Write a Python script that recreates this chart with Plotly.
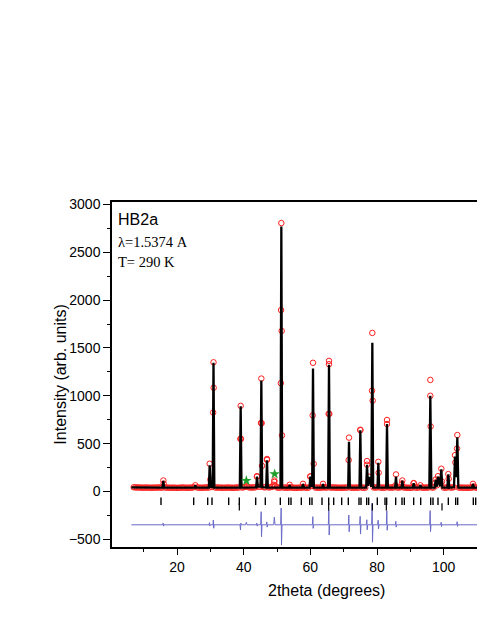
import plotly.graph_objects as go

# calculated profile (2theta, counts), vertices
calc_x = [6.3, 15.65, 15.9, 16.15, 25.25, 25.5, 25.75,
          29.55, 29.8, 30.1, 30.7, 30.95, 31.2, 38.85, 39.1, 39.35,
          43.75, 44.0, 44.25, 45.05, 45.3, 45.55, 46.75, 47.0, 47.25,
          51.05, 51.3, 51.55, 53.55, 53.8, 54.05, 57.55, 57.8, 58.05,
          59.75, 60.0, 60.3, 60.55, 60.8, 61.05, 63.55, 63.8, 64.05,
          65.35, 65.6, 65.85, 71.35, 71.6, 71.85, 74.75, 75.0, 75.25,
          76.75, 77.0, 77.3, 77.6, 78.3, 78.6, 78.85, 80.15, 80.4, 80.65,
          82.75, 83.0, 83.25, 85.45, 85.7, 85.95, 87.35, 87.6, 87.85,
          90.7, 91.0, 91.3, 92.7, 93.0, 93.3, 95.7, 96.0, 96.3,
          97.3, 97.6, 97.95, 98.3, 98.9, 99.3, 99.6, 101.1, 101.4, 101.7,
          103.1, 103.4, 103.75, 104.1, 104.4, 108.5, 108.8, 109.1,
          111.9, 112.2, 112.5]
calc_y = [42, 40, 110, 40, 40, 65, 40,
          40, 275, 50, 45, 1345, 40, 40, 890, 40,
          42, 155, 50, 50, 1160, 45, 42, 325, 40,
          40, 2770, 40, 40, 68, 40, 40, 78, 40,
          40, 155, 60, 60, 1285, 40, 40, 78, 40,
          40, 1325, 40, 40, 520, 40, 40, 640, 40,
          40, 280, 60, 150, 50, 1555, 40, 40, 300, 40,
          40, 705, 40, 40, 155, 40, 40, 113, 40,
          40, 85, 40, 40, 65, 40, 40, 1000, 40,
          40, 120, 50, 155, 55, 232, 40, 40, 178, 40,
          45, 365, 150, 567, 40, 40, 78, 40,
          40, 354, 40]

# observed counts on the 0.5 degree scan grid, 7.0 ... 112.0
obs_x = [7 + 0.5 * i for i in range(211)]
obs_y = [44, 43, 42, 42, 41, 40, 40, 41, 41, 40,
         39, 40, 40, 41, 41, 42, 42, 40, 82, 41,
         41, 40, 39, 40, 40, 39, 38, 39, 40, 41,
         41, 40, 39, 40, 40, 41, 44, 65, 42, 41,
         39, 40, 40, 41, 43, 40, 125, 47, 1084, 41,
         42, 41, 40, 40, 39, 40, 41, 41, 40, 39,
         39, 40, 42, 41, 550, 42, 44, 50, 55, 44,
         41, 42, 42, 44, 155, 50, 50, 268, 45, 43,
         330, 42, 45, 48, 70, 60, 42, 41, 40, 586,
         41, 41, 40, 40, 46, 40, 40, 39, 39, 40,
         41, 40, 48, 40, 40, 41, 155, 60, 289, 41,
         41, 40, 40, 41, 46, 41, 42, 811, 41, 42,
         42, 41, 40, 40, 39, 40, 40, 41, 41, 328,
         42, 40, 40, 41, 41, 40, 640, 41, 40, 40,
         280, 120, 93, 1053, 42, 42, 42, 196, 41, 41,
         40, 41, 705, 42, 41, 42, 42, 63, 42, 41,
         44, 84, 42, 41, 40, 39, 39, 40, 85, 41,
         41, 40, 65, 41, 40, 41, 41, 42, 1000, 42,
         42, 93, 65, 122, 99, 104, 41, 40, 42, 132,
         41, 42, 45, 304, 448, 41, 41, 40, 40, 40,
         39, 40, 40, 41, 53, 42, 40, 41, 41, 40,
         145]

# observed points at the peak tops and on the flanks of the strong peaks
obs_pk_x = [15.9, 29.8, 30.95, 30.85, 39.1, 39.2, 44.0, 45.3, 45.2, 45.4,
            47.0, 49.2, 49.2, 51.3, 51.22, 51.4, 51.15, 53.8, 57.8, 60.0,
            60.8, 60.7, 63.8, 65.6, 65.6, 65.7, 71.6, 75.0, 77.0, 77.6,
            78.6, 78.7, 80.4, 83.0, 85.7, 87.6, 91.0, 96.0, 96.1, 97.6,
            98.3, 99.3, 101.4, 103.4, 104.1, 108.8, 112.2]
obs_pk_y = [115, 290, 1350, 825, 895, 550, 160, 1180, 716, 714,
            340, 100, 115, 2805, 1896, 1678, 1132, 70, 80, 158,
            1345, 795, 80, 1365, 1330, 811, 563, 645, 318, 155,
            1657, 949, 310, 747, 178, 115, 88, 1166, 680, 125,
            160, 238, 182, 380, 590, 80, 360]

# difference curve (obs - calc), drawn offset below the pattern
diff_x = [6.3,
          15.7, 15.85, 15.95, 16.1, 29.6, 29.75, 29.85, 30.0, 30.8, 30.9, 31.0, 31.15,
          38.9, 39.05, 39.15, 39.3, 40.6, 40.8, 41.0, 43.8, 43.95, 44.05, 44.2,
          45.1, 45.25, 45.35, 45.5, 46.8, 46.95, 47.05, 47.2, 49.0, 49.2, 49.4,
          51.1, 51.25, 51.35, 51.5, 60.6, 60.75, 60.85, 61.0, 65.4, 65.55, 65.65, 65.8,
          71.4, 71.55, 71.65, 71.8, 74.8, 74.95, 75.05, 75.2, 76.8, 76.95, 77.05, 77.2,
          78.4, 78.55, 78.65, 78.8, 80.2, 80.35, 80.45, 80.6, 82.8, 82.95, 83.05, 83.2,
          85.5, 85.65, 85.75, 85.9, 95.8, 95.95, 96.05, 96.2, 99.1, 99.25, 99.35, 99.5,
          103.9, 104.05, 104.15, 104.3, 111.95, 112.1, 112.2, 112.35]
diff_y = [-348,
          -348, -330, -362, -348, -348, -325, -360, -348, -348, -298, -384, -348,
          -348, -403, -330, -348, -348, -322, -348, -348, -330, -362, -348,
          -348, -211, -473, -348, -348, -318, -372, -348, -348, -268, -348,
          -348, -172, -560, -348, -348, -263, -385, -348, -348, -193, -455, -348,
          -348, -246, -420, -348, -348, -260, -445, -348, -348, -295, -400, -348,
          -348, -123, -530, -348, -348, -300, -390, -348, -348, -200, -405, -348,
          -348, -312, -372, -348, -348, -200, -420, -348, -348, -322, -366, -348,
          -348, -316, -364, -348, -348, -265, -400, -348]

# Bragg reflection positions: main phase and second phase
bragg_main = [15.2, 25.0, 29.2, 30.5, 35.5, 38.7, 43.6, 46.5, 51.0, 53.5, 54.2, 57.3,
              59.8, 60.5, 63.5, 65.5, 67.0, 69.4, 71.4, 74.6, 75.2, 76.9, 77.5, 80.1,
              82.4, 82.9, 85.6, 87.5, 88.2, 91.0, 93.1, 96.1, 96.8, 98.3, 101.4, 103.6,
              104.2, 108.9, 109.6]
bragg_second = [38.7, 65.5, 78.6, 82.8, 99.5]

# impurity peaks marked with stars
star_x = [40.8, 49.3]
star_y = [113, 183]

SANS = "Arial, Liberation Sans, sans-serif"
SERIF = "Times New Roman, Liberation Serif, serif"

fig = go.Figure()

fig.add_trace(go.Scatter(
    x=obs_x + obs_pk_x, y=obs_y + obs_pk_y, mode="markers",
    marker=dict(symbol="circle-open", size=5.5, color="#ff1f1f", line=dict(width=1)),
    name="Yobs"))
fig.add_trace(go.Scatter(
    x=calc_x, y=calc_y, mode="lines", line=dict(color="black", width=2.3), name="Ycalc"))
fig.add_trace(go.Scatter(
    x=diff_x, y=diff_y, mode="lines", line=dict(color="#6a6ac8", width=1), name="Yobs-Ycalc"))
fig.add_trace(go.Scatter(
    x=bragg_main, y=[-102] * len(bragg_main), mode="markers",
    marker=dict(symbol="line-ns", size=5.4, line=dict(color="black", width=1.4)),
    name="Bragg"))
fig.add_trace(go.Scatter(
    x=bragg_second, y=[-160] * len(bragg_second), mode="markers",
    marker=dict(symbol="line-ns", size=5.2, line=dict(color="black", width=1.2)),
    name="Bragg 2"))
fig.add_trace(go.Scatter(
    x=star_x, y=star_y, mode="markers",
    marker=dict(symbol="star", size=8, color="#1f9e2a", line=dict(width=0)),
    name="impurity"))

# the frame of the original runs off the right edge of the picture
fig.update_xaxes(
    range=[0.5, 112.4], showline=True, linecolor="black", linewidth=1.5, mirror=True,
    ticks="outside", ticklen=6, tickwidth=1.2, tickcolor="black", dtick=20, tick0=0,
    minor=dict(ticks="outside", ticklen=3, tickwidth=1.2, tickcolor="black", dtick=10),
    showgrid=False, zeroline=False,
    tickfont=dict(family=SANS, size=14, color="black"))
fig.update_yaxes(
    range=[-580, 3025], showline=True, linecolor="black", linewidth=1.5,
    ticks="outside", ticklen=7, tickwidth=1.2, tickcolor="black", dtick=500, tick0=0,
    minor=dict(ticks="outside", ticklen=3.5, tickwidth=1.2, tickcolor="black", dtick=250),
    showgrid=False, zeroline=False,
    tickfont=dict(family=SANS, size=14, color="black"))

annotations = [
    dict(text="Intensity (arb. units)", x=-0.139, y=0.5, textangle=-90,
         font=dict(family=SANS, size=16, color="black")),
    dict(text="2theta (degrees)", x=0.574, y=-0.125,
         font=dict(family=SANS, size=16, color="black")),
    dict(text="HB2a", x=0.011, y=0.950, xanchor="left",
         font=dict(family=SANS, size=16, color="black")),
    dict(text="λ=1.5374 A", x=0.011, y=0.885, xanchor="left",
         font=dict(family=SERIF, size=14.5, color="black")),
    dict(text="T= 290 K", x=0.011, y=0.827, xanchor="left",
         font=dict(family=SERIF, size=14.5, color="black")),
]
for a in annotations:
    a.update(xref="paper", yref="paper", showarrow=False)
    a.setdefault("xanchor", "center")
    a["yanchor"] = "middle"

# page body adds an 8px margin all round; fixed size, no autosizing to the
# container, so the plot area reaches the right edge of the window
fig.update_layout(
    autosize=False, width=477, height=600,
    margin=dict(l=104, r=0, t=194, b=61, autoexpand=False),
    paper_bgcolor="white", plot_bgcolor="white",
    showlegend=False, annotations=annotations)

fig.write_html("out.html", config={"responsive": False})
